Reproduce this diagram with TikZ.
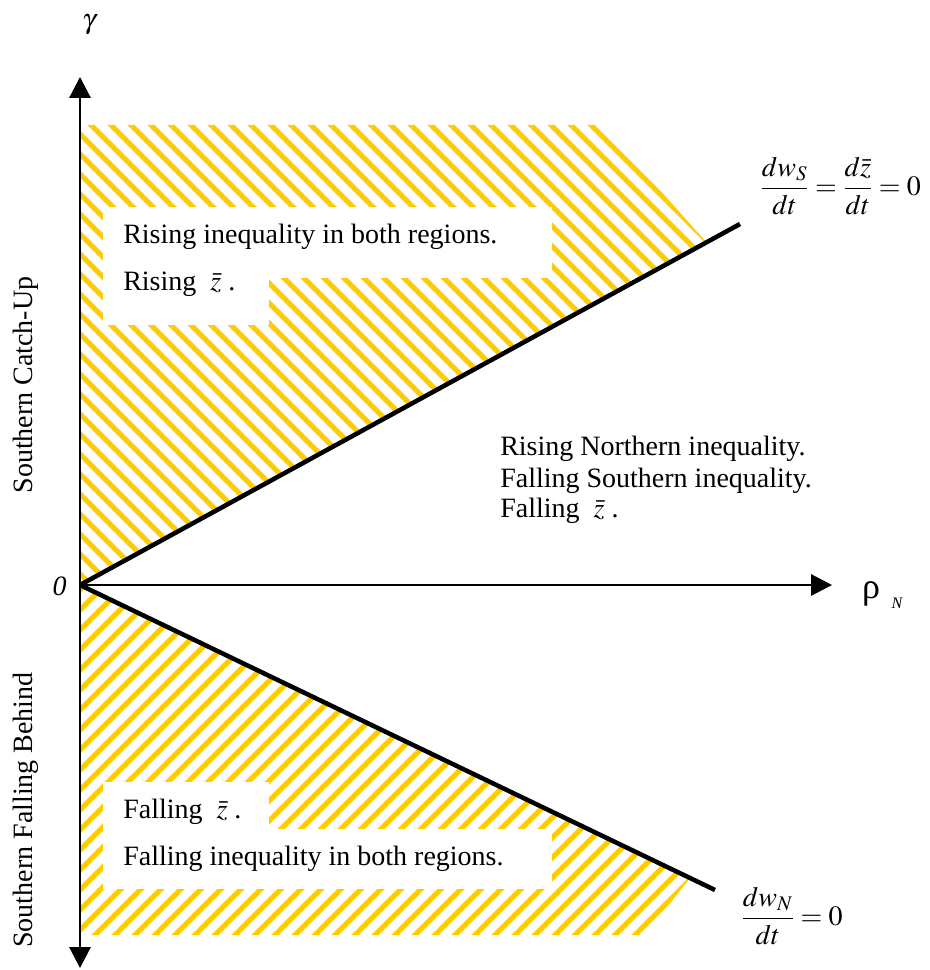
\documentclass[tikz,border=0pt]{standalone}
\usepackage{mathptmx}
\usepackage{fontspec}
\setmainfont{Liberation Serif}
\usetikzlibrary{arrows.meta}
\definecolor{hatchgold}{HTML}{FFCC00}
\begin{document}
\begin{tikzpicture}[x=0.75pt,y=-0.75pt,
  lbl/.style={inner sep=0pt, font=\fontsize{21}{25}\selectfont},
  axisline/.style={line width=1.5pt},
  bound/.style={line width=3.4pt},
  hatch/.style={hatchgold, line width=3.8pt},
  whitebox/.style={fill=white, draw=none}]
\useasboundingbox (0,0) rectangle (929,970);

% coordinates
\coordinate (O) at (80,585);
\coordinate (ytop) at (80,77);
\coordinate (ybot) at (80,968);
\coordinate (xend) at (832,585);
\coordinate (L1) at (740,224);
\coordinate (L2) at (715,890);

% upper hatched region
\begin{scope}
\clip (O) -- (80,125) -- (602,125) -- (707,243) -- cycle;
\foreach \k in {-26,...,33} \draw[hatch] ({-34+20*\k},0) -- ++(1000,1000);
\end{scope}

% lower hatched region
\begin{scope}
\clip (O) -- (690,878) -- (645,935) -- (80,935) -- cycle;
\foreach \k in {0,...,52} \draw[hatch] ({650+20*\k},0) -- ++(-1000,1000);
\end{scope}

% white boxes
\fill[whitebox] (103,207) rectangle (552,278);
\fill[whitebox] (103,277) rectangle (269,325);
\fill[whitebox] (103,782) rectangle (269,830);
\fill[whitebox] (103,829) rectangle (552,889);

% axes
\draw[axisline, {Triangle[length=15.75pt,width=16pt]}-{Triangle[length=15.75pt,width=16pt]}] (ybot) -- (ytop);
\draw[axisline, -{Triangle[length=15.75pt,width=16pt]}] (O) -- (xend);

% boundary lines
\draw[bound] (O) -- (L1);
\draw[bound] (O) -- (L2);

% labels
\node[lbl] (gamma) at (89,25) {$\gamma$};
\node[lbl] (zero) at (59.5,586) {\textit{0}};
\node[inner sep=0pt, font=\fontsize{27}{30}\selectfont] (rho) at (871,594) {ρ};
\node[inner sep=0pt, font=\fontsize{12}{14}\selectfont\itshape] (Nsub) at (897,603) {N};

\node[lbl, rotate=90] (sc) at (26,385) {Southern Catch-Up};
\node[lbl, rotate=90] (sf) at (26,810) {Southern Falling Behind};

\node[lbl, anchor=base west] (t1) at (123,243) {Rising inequality in both regions.};
\node[lbl, anchor=base west] (t2) at (123,290) {Rising~~$\bar{z}$~.};

\node[lbl, anchor=base west] (m1) at (500,455) {Rising Northern inequality.};
\node[lbl, anchor=base west] (m2) at (500,487) {Falling Southern inequality.};
\node[lbl, anchor=base west] (m3) at (500,517) {Falling~~$\bar{z}$~.};

\node[lbl, anchor=base west] (b1) at (123,818) {Falling~~$\bar{z}$~.};
\node[lbl, anchor=base west] (b2) at (123,865) {Falling inequality in both regions.};

\node[lbl, anchor=west] (f1) at (760,186) {$\displaystyle\frac{dw_S}{dt}=\frac{d\bar{z}}{dt}=0$};
\node[lbl, anchor=west] (f2) at (741,916) {$\displaystyle\frac{dw_N}{dt}=0$};
\end{tikzpicture}
\end{document}
